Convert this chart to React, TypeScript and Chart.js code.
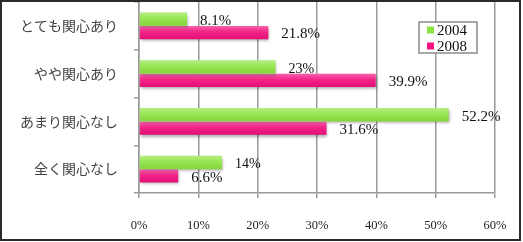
import React, { useEffect, useRef } from "react";
import { Chart, registerables } from "chart.js";

Chart.register(...registerables);

const categories = ["とても関心あり", "やや関心あり", "あまり関心なし", "全く関心なし"];
const seriesNames = ["2004", "2008"];
const values2004 = [8.1, 23, 52.2, 14];
const values2008 = [21.8, 39.9, 31.6, 6.6];
const xTicks = [0, 10, 20, 30, 40, 50, 60];

const GREEN = "#8ee443";
const PINK = "#f2117e";
const SERIF = "'Liberation Serif', 'DejaVu Serif', serif";
const JP = "'Noto Sans CJK JP', sans-serif";

const fmt = (v: number) => (Number.isInteger(v) ? `${v}%` : `${v.toFixed(1)}%`);

const decorPlugin = {
  id: "decor",
  beforeDatasetsDraw(chart: any) {
    const ctx = chart.ctx;
    ctx.save();
    ctx.shadowColor = "rgba(0,0,0,0.35)";
    ctx.shadowBlur = 3;
    ctx.shadowOffsetX = 1;
    ctx.shadowOffsetY = 2;
  },
  afterDatasetsDraw(chart: any) {
    const ctx = chart.ctx;
    ctx.restore();
    ctx.save();
    chart.data.datasets.forEach((ds: any, di: number) => {
      const meta = chart.getDatasetMeta(di);
      meta.data.forEach((el: any, i: number) => {
        const left = Math.min(el.base, el.x);
        const w = Math.abs(el.x - el.base);
        const top = el.y - el.height / 2;
        const h = el.height;
        const g = ctx.createLinearGradient(0, top, 0, top + h);
        g.addColorStop(0, "rgba(255,255,255,0.35)");
        g.addColorStop(0.45, "rgba(255,255,255,0.08)");
        g.addColorStop(1, "rgba(0,0,0,0.06)");
        ctx.fillStyle = g;
        ctx.fillRect(left, top, w, h);
        const v = ds.data[i];
        const small = Number.isInteger(v);
        ctx.font = `${small ? 14 : 15}px ${SERIF}`;
        ctx.fillStyle = "#111";
        ctx.textAlign = "left";
        ctx.textBaseline = "middle";
        ctx.fillText(fmt(v), el.x + 13, el.y + 2);
      });
    });
    const lx = 419, ly = 22, lw = 58, lh = 31;
    ctx.strokeStyle = "#8a8a8a";
    ctx.lineWidth = 1.5;
    ctx.fillStyle = "#fff";
    ctx.fillRect(lx, ly, lw, lh);
    ctx.strokeRect(lx, ly, lw, lh);
    chart.data.datasets.forEach((ds: any, di: number) => {
      const cy = ly + 8 + di * 16;
      ctx.fillStyle = ds.backgroundColor;
      ctx.fillRect(lx + 8, cy - 3.5, 7, 7);
      ctx.fillStyle = "#111";
      ctx.font = `15px ${SERIF}`;
      ctx.textAlign = "left";
      ctx.textBaseline = "middle";
      ctx.fillText(ds.label, lx + 18, cy + 1);
    });
    ctx.strokeStyle = "#2b2b2b";
    ctx.lineWidth = 2;
    ctx.strokeRect(1, 1, 519, 239);
    ctx.restore();
  },
};

export default function App() {
  const ref = useRef<HTMLCanvasElement>(null);
  useEffect(() => {
    document.body.style.margin = "0";
    const chart = new Chart(ref.current!, {
      type: "bar",
      data: {
        labels: categories,
        datasets: [
          { label: seriesNames[0], data: values2004, backgroundColor: GREEN },
          { label: seriesNames[1], data: values2008, backgroundColor: PINK },
        ],
      },
      options: {
        indexAxis: "y",
        animation: false,
        responsive: false,
        devicePixelRatio: 1,
        layout: { padding: { top: 2, right: 28, left: 0, bottom: 0 } },
        datasets: { bar: { categoryPercentage: 0.56, barPercentage: 1 } },
        plugins: { legend: { display: false }, tooltip: { enabled: false } },
        scales: {
          x: {
            min: xTicks[0],
            max: xTicks[xTicks.length - 1],
            afterBuildTicks: (s: any) => {
              s.ticks = xTicks.map((v) => ({ value: v }));
            },
            afterFit: (s: any) => {
              s.height = 49;
              s.paddingLeft = 0;
              s.paddingRight = 0;
            },
            grid: { color: "#9a9a9a", lineWidth: 1.5, tickLength: 5 },
            border: { color: "#9a9a9a", width: 1.5 },
            ticks: {
              padding: 20,
              color: "#222",
              font: { family: SERIF, size: 12.5 },
              callback: (v: any) => `${v}%`,
            },
          },
          y: {
            afterFit: (s: any) => {
              s.width = 139;
              s.paddingTop = 0;
              s.paddingBottom = 0;
            },
            grid: { drawOnChartArea: false, color: "#9a9a9a", lineWidth: 1.5, tickLength: 5 },
            border: { color: "#9a9a9a", width: 1.5 },
            ticks: { padding: 16, color: "#444", font: { family: JP, size: 14 } },
          },
        },
      },
      plugins: [decorPlugin],
    });
    return () => chart.destroy();
  }, []);
  return <canvas ref={ref} width={523} height={242} style={{ width: 523, height: 242, display: "block" }} />;
}
